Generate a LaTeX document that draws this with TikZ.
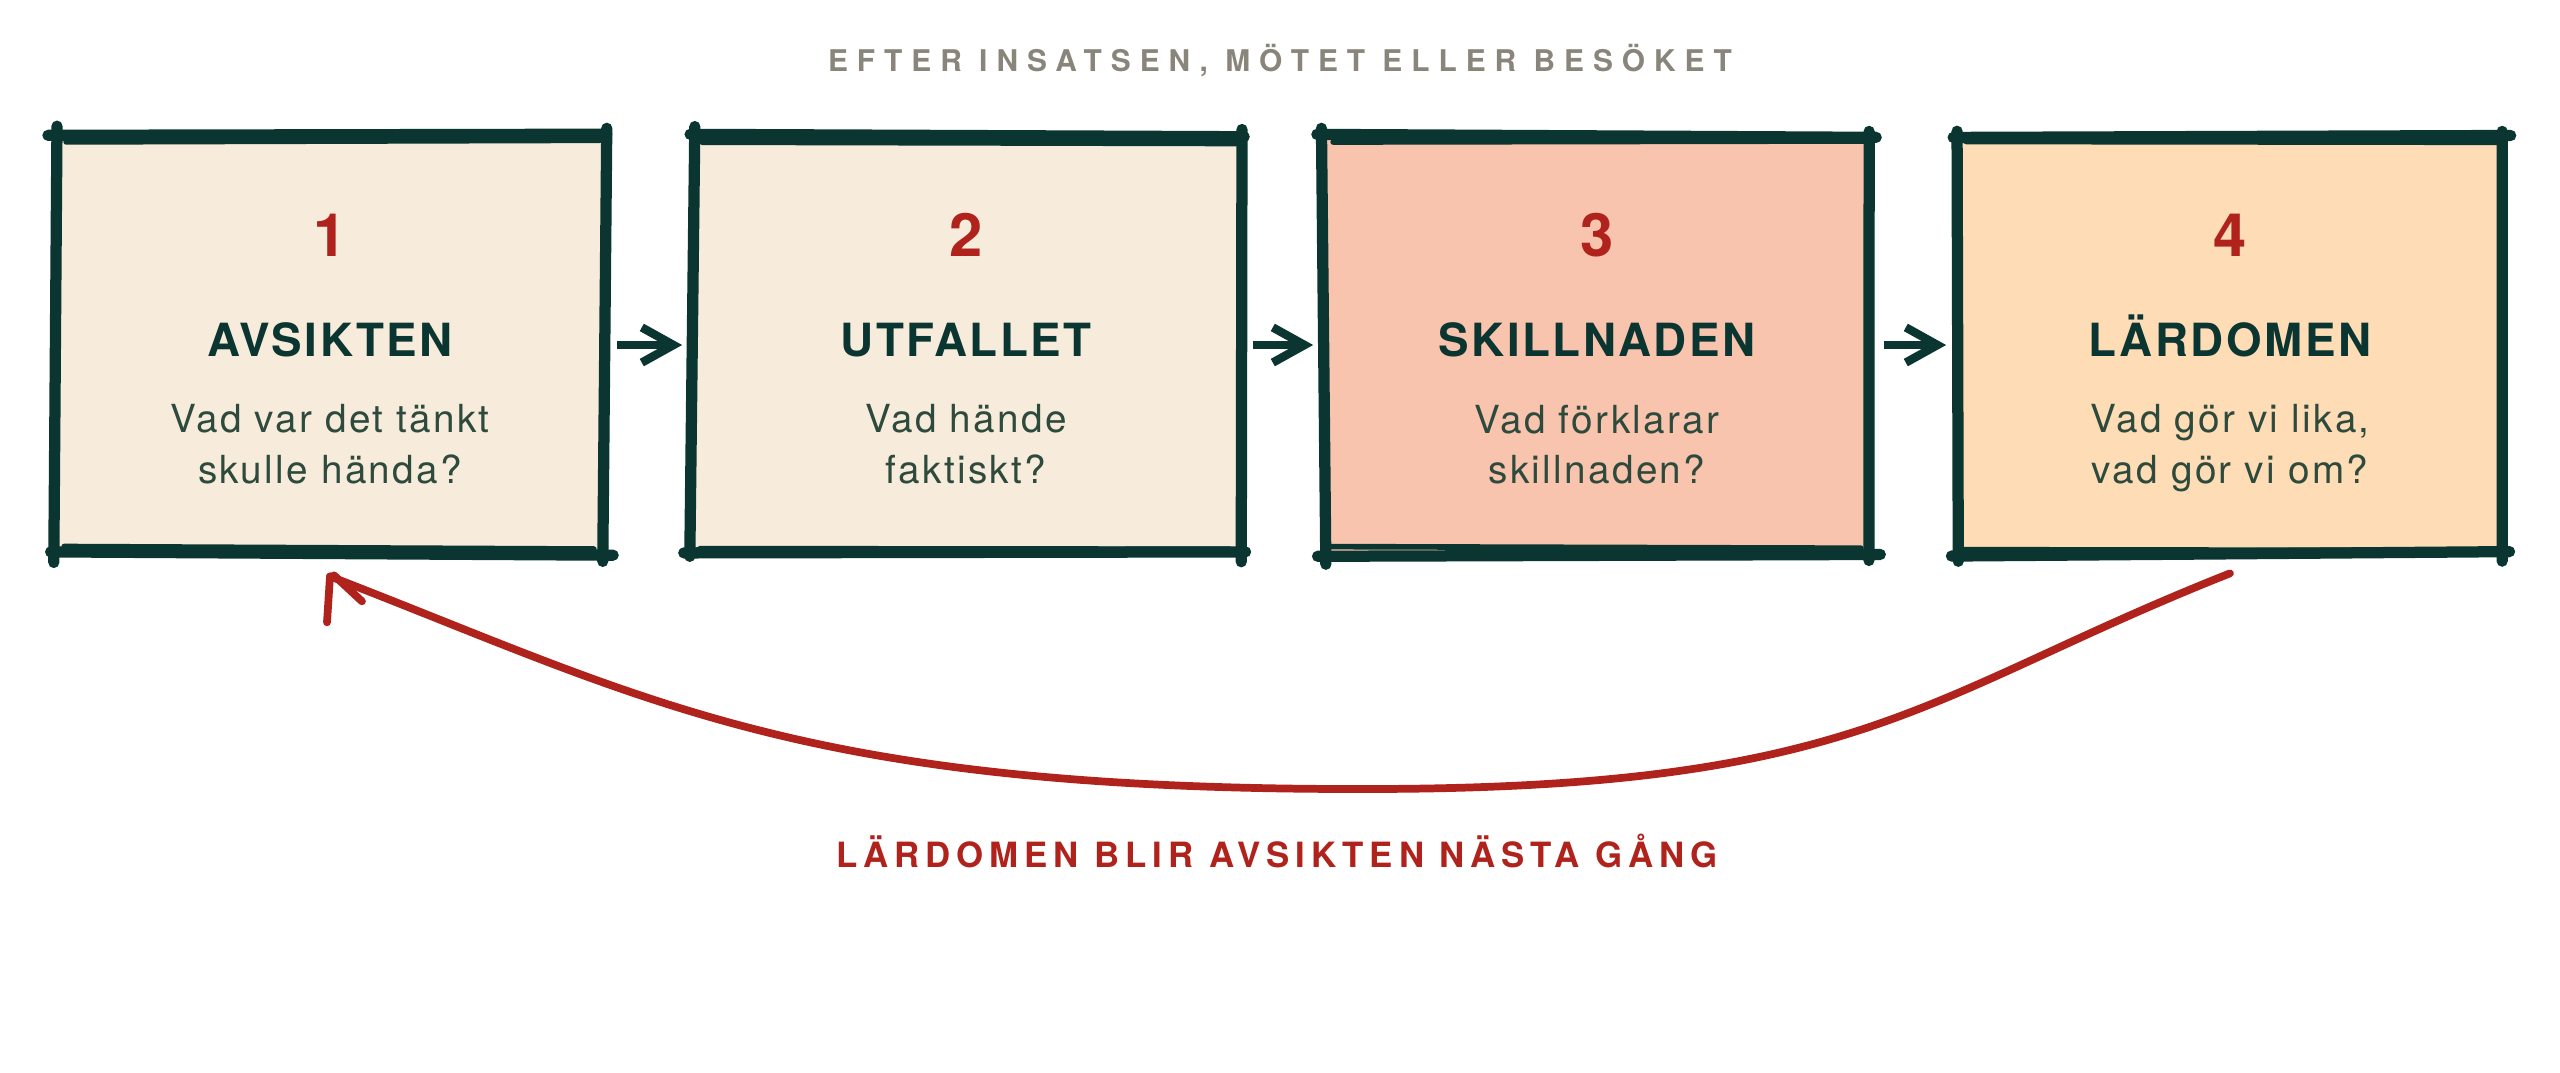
\documentclass[tikz,border=0pt]{standalone}
\usepackage{fontspec}
\setmainfont{TeX Gyre Heros}
\newfontfamily\titlefont[LetterSpace=30]{TeX Gyre Heros}
\newfontfamily\loopfont[LetterSpace=17]{TeX Gyre Heros}
\newfontfamily\headfont[LetterSpace=5.5]{TeX Gyre Heros}
\newfontfamily\askfont[LetterSpace=6]{TeX Gyre Heros}
\usetikzlibrary{arrows.meta,calc}

\definecolor{ink}{HTML}{0B3530}
\definecolor{inksoft}{HTML}{2E4A3D}
\definecolor{brick}{HTML}{B0221C}
\definecolor{stone}{HTML}{8A857B}
\definecolor{cream}{HTML}{F7ECDC}
\definecolor{salmon}{HTML}{F8C4AE}
\definecolor{peach}{HTML}{FDDCB6}

\begin{document}
\begin{tikzpicture}[x=0.01cm,y=-0.01cm,
	card/.style={minimum width=5.46cm,minimum height=4.17cm,inner sep=0pt},
	rough/.style={draw=ink,line width=3.2pt,line cap=round},
	thin rough/.style={draw=ink,line width=1.6pt,line cap=round},
	numtext/.style={text=brick,inner sep=0pt,anchor=base,font=\bfseries\fontsize{17}{20}\selectfont},
	headtext/.style={text=ink,inner sep=0pt,anchor=base,font=\headfont\bfseries\fontsize{13}{16}\selectfont},
	asktext/.style={text=inksoft,inner sep=0pt,anchor=north,align=center,font=\askfont\fontsize{11}{14.4}\selectfont},
	flow/.style={draw=ink,line width=2.4pt,-{Straight Barb[length=9pt,width=10pt]},shorten <=0.13cm,shorten >=0.1cm},
	loopline/.style={draw=brick,line width=2.2pt,line cap=round},
	titletext/.style={text=stone,font=\titlefont\bfseries\fontsize{8.5}{10}\selectfont},
	looptext/.style={text=brick,font=\loopfont\bfseries\fontsize{9.9}{12}\selectfont}]
\useasboundingbox (0,0) rectangle (2560,1072);

\node[titletext] (title) at (1280,60) {EFTER INSATSEN, MÖTET ELLER BESÖKET};

\foreach \i/\x/\col in {1/330/cream,2/966/cream,3/1597/salmon,4/2230/peach}
	\node[card,fill=\col] (b\i) at (\x,345) {};

\pgfmathsetseed{4}
\foreach \i in {1,...,4}{
	\draw[rough] ($(b\i.north west)+({-5+4*rand},{3*rand})$) -- ($(b\i.north east)+({6+4*rand},{3*rand})$);
	\draw[rough] ($(b\i.north east)+({3*rand},{-6+4*rand})$) -- ($(b\i.south east)+({3*rand},{6+4*rand})$);
	\draw[rough] ($(b\i.south east)+({6+4*rand},{3*rand})$) -- ($(b\i.south west)+({-5+4*rand},{3*rand})$);
	\draw[rough] ($(b\i.south west)+({3*rand},{6+4*rand})$) -- ($(b\i.north west)+({3*rand},{-6+4*rand})$);
	\draw[thin rough] ($(b\i.north west)+(10,{7+2*rand})$) -- ($(b\i.north east)+(-4,{6+2*rand})$);
	\draw[thin rough] ($(b\i.south west)+(8,{-6+2*rand})$) -- ($(b\i.south east)+(-10,{-5+2*rand})$);
}

\foreach \i/\head/\ask in {1/AVSIKTEN/{Vad var det tänkt\\skulle hända?},2/UTFALLET/{Vad hände\\faktiskt?},3/SKILLNADEN/{Vad förklarar\\skillnaden?},4/LÄRDOMEN/{Vad gör vi lika,\\vad gör vi om?}}{
	\node[numtext] (n\i) at ($(b\i)+(0,-89)$) {\i};
	\node[headtext] (h\i) at ($(b\i)+(0,11)$) {\head};
	\node[asktext] (q\i) at ($(b\i)+(0,59)$) {\ask};
}

\foreach \a/\b in {1/2,2/3,3/4}
	\draw[flow] (b\a.east) -- (b\b.west);

\coordinate (loopmid) at (1365,789);
\draw[loopline] ([yshift=-0.19cm]b4.south) .. controls (1920,696) and (1865,789) .. (loopmid)
	.. controls (800,790) and (650,700) .. ([yshift=-0.22cm]b1.south) coordinate (looptip);
\draw[loopline] (looptip) -- ++(-3,46) (looptip) ++(4,-1) -- ++(28,26);

\node[looptext] (looplabel) at (1277,851) {LÄRDOMEN BLIR AVSIKTEN NÄSTA GÅNG};

\end{tikzpicture}
\end{document}
